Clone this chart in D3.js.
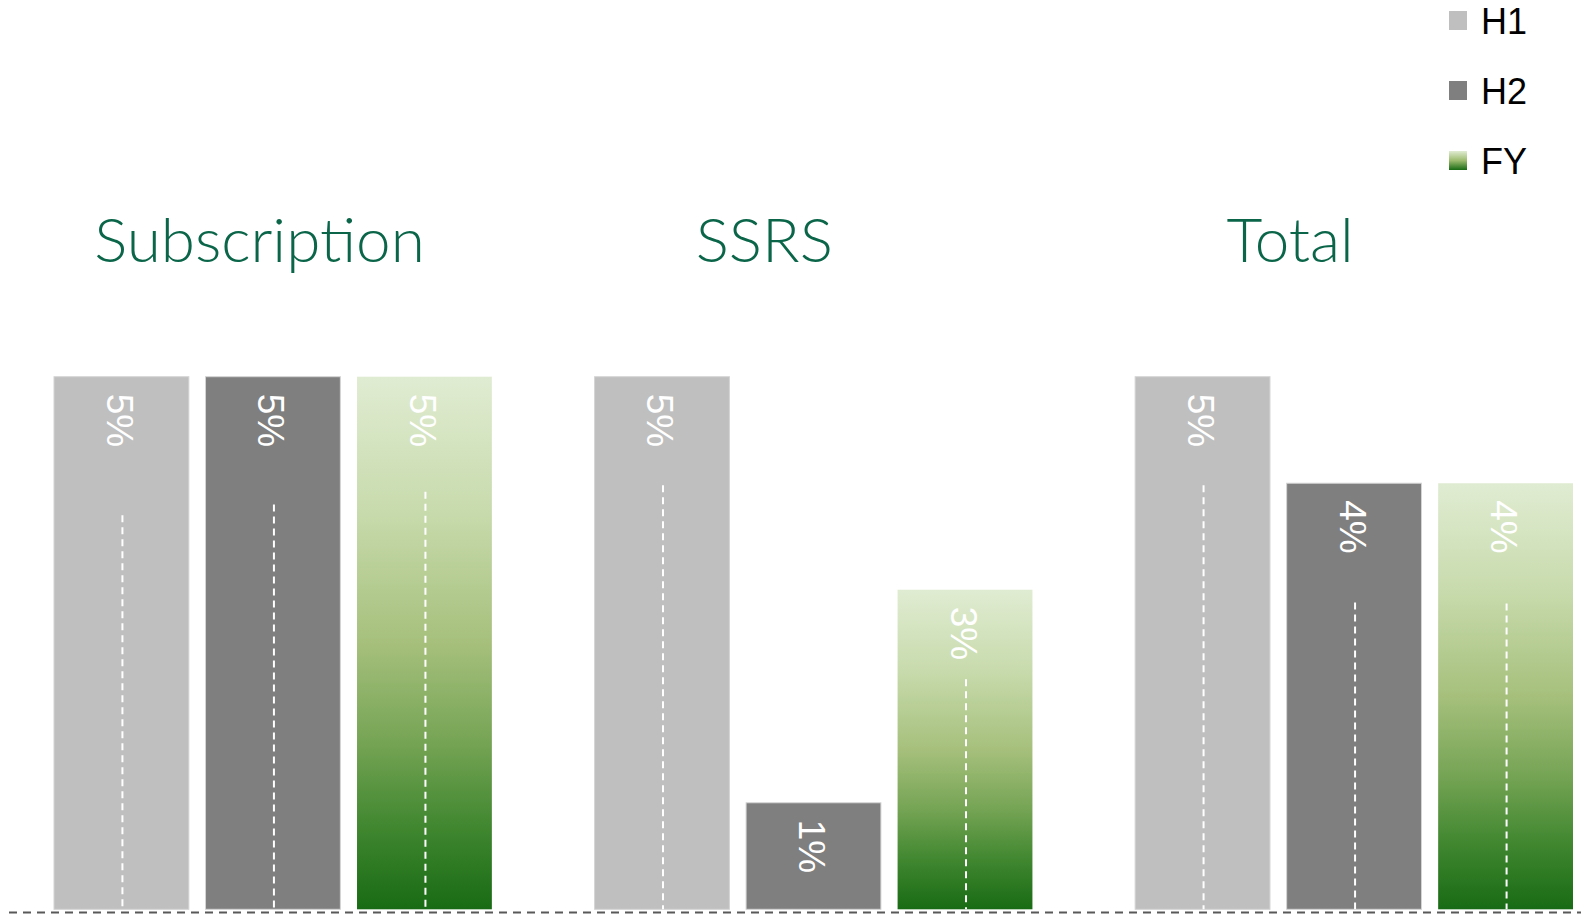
<!DOCTYPE html>
<html>
<head>
<meta charset="utf-8">
<script src="https://cdn.jsdelivr.net/npm/d3@7"></script>
<style>
  html, body { margin: 0; padding: 0; background: #ffffff; }
  svg { display: block; }
</style>
</head>
<body>
<svg id="chart" width="1581" height="914"></svg>
<script>
// ---- data ----
const groups = ["Subscription", "SSRS", "Total"];
const seriesNames = ["H1", "H2", "FY"];
const h1Values = [5, 5, 5];
const h2Values = [5, 1, 4];
const fyValues = [5, 3, 4];
// top of the white dashed marker line inside each bar (value units), null = none
const h1Markers = [3.70, 3.98, 3.98];
const h2Markers = [3.80, null, 2.88];
const fyMarkers = [3.92, 2.16, 2.87];

// ---- layout ----
const W = 1581, H = 914;
const baseY = 909.3, topY = 376.7;
const titleDx = [205.5, 169.7, 155];   // title centre offset from group start
const seriesValues = { H1: h1Values, H2: h2Values, FY: fyValues };
const seriesMarkers = { H1: h1Markers, H2: h2Markers, FY: fyMarkers };
const seriesFill = { H1: "#bfbfbf", H2: "#7f7f7f", FY: "url(#fyGrad)" };

const svg = d3.select("#chart");
const defs = svg.append("defs");
const grad = defs.append("linearGradient")
  .attr("id", "fyGrad").attr("x1", 0).attr("y1", 0).attr("x2", 0).attr("y2", 1);
[[0, "#e0ecd2"], [0.25, "#c8dbad"], [0.5, "#a6c07c"], [0.68, "#77a556"],
 [0.85, "#3f862f"], [1, "#186b14"]].forEach(([o, c]) =>
  grad.append("stop").attr("offset", o).attr("stop-color", c));

const x0 = d3.scaleBand().domain(groups).range([54, 1573]).paddingInner(0.19);
const x1 = d3.scaleBand().domain(seriesNames).range([0, x0.bandwidth()]).paddingInner(0.11);
const y = d3.scaleLinear().domain([0, 5]).range([baseY, topY]);

const rows = [];
groups.forEach((g, gi) => {
  seriesNames.forEach(s => {
    rows.push({ group: g, gi, series: s, value: seriesValues[s][gi], marker: seriesMarkers[s][gi] });
  });
});

const gBars = svg.append("g");
gBars.selectAll("rect").data(rows).join("rect")
  .attr("x", d => x0(d.group) + x1(d.series))
  .attr("y", d => y(d.value))
  .attr("width", x1.bandwidth())
  .attr("height", d => y(0) - y(d.value))
  .attr("fill", d => seriesFill[d.series])
  .attr("stroke", d => d.series === "FY" ? "none" : "#d4d4d4")
  .attr("stroke-width", 1);

// dashed marker lines
gBars.selectAll("line.marker").data(rows.filter(d => d.marker != null)).join("line")
  .attr("class", "marker")
  .attr("x1", d => x0(d.group) + x1(d.series) + x1.bandwidth() / 2 + 1)
  .attr("x2", d => x0(d.group) + x1(d.series) + x1.bandwidth() / 2 + 1)
  .attr("y1", d => y(d.marker))
  .attr("y2", y(0))
  .attr("stroke", "#ffffff")
  .attr("stroke-width", 2)
  .attr("stroke-dasharray", "7,5");

// rotated value labels
gBars.selectAll("text.val").data(rows).join("text")
  .attr("class", "val")
  .attr("transform", d => `translate(${x0(d.group) + x1(d.series) + x1.bandwidth() / 2 - 2},${y(d.value) + 17}) rotate(90)`)
  .attr("text-anchor", "start")
  .attr("dominant-baseline", "central")
  .attr("font-family", "'Liberation Sans', Arial, sans-serif")
  .attr("font-size", 37)
  .attr("fill", "#ffffff")
  .text(d => `${d.value}%`);

// group titles
svg.append("g").selectAll("text").data(groups).join("text")
  .attr("x", (g, i) => x0(g) + titleDx[i])
  .attr("y", 262)
  .attr("text-anchor", "middle")
  .attr("font-family", "Lato, 'Open Sans', sans-serif")
  .attr("font-weight", 300)
  .attr("font-size", 62)
  .attr("fill", "#0b6649")
  .text(g => g);

// baseline
svg.append("line")
  .attr("x1", 9).attr("x2", W)
  .attr("y1", 912.5).attr("y2", 912.5)
  .attr("stroke", "#595959")
  .attr("stroke-width", 2)
  .attr("stroke-dasharray", "8,6");

// legend
const legendFill = { H1: "#bfbfbf", H2: "#7f7f7f", FY: "url(#legGrad)" };
const lg = defs.append("linearGradient")
  .attr("id", "legGrad").attr("x1", 0).attr("y1", 0).attr("x2", 0).attr("y2", 1);
[[0, "#e0ecd2"], [0.5, "#9cbb6e"], [1, "#186b14"]].forEach(([o, c]) =>
  lg.append("stop").attr("offset", o).attr("stop-color", c));

const legend = svg.append("g");
const ly = d3.scalePoint().domain(seriesNames).range([20, 160]);
const li = legend.selectAll("g").data(seriesNames).join("g")
  .attr("transform", s => `translate(1449,${ly(s)})`);
li.append("rect")
  .attr("x", 0).attr("y", -9).attr("width", 18).attr("height", 19)
  .attr("fill", s => legendFill[s]);
li.append("text")
  .attr("x", 32).attr("y", 1)
  .attr("dominant-baseline", "central")
  .attr("font-family", "'Liberation Sans', Arial, sans-serif")
  .attr("font-size", 36)
  .attr("fill", "#000000")
  .text(s => s);
</script>
</body>
</html>
